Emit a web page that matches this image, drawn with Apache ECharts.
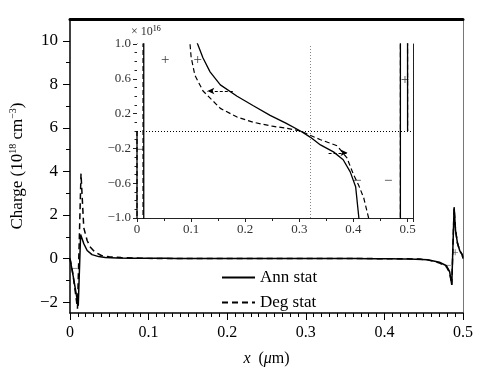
<!DOCTYPE html>
<html>
<head>
<meta charset="utf-8">
<script src="https://cdn.jsdelivr.net/npm/echarts@6/dist/echarts.min.js"></script>
<style>
  html, body { margin: 0; padding: 0; background: #fff; }
  #chart { width: 495px; height: 375px; }
</style>
</head>
<body>
<div id="chart"></div>
<script>
// x in um; edge values in 1e18 cm^-3, middle (zoomed) values in 1e16 cm^-3
const annLeft = [[0, 0], [0.004, -0.8], [0.008, -1.65], [0.0105, -2.17], [0.0135, 1.1], [0.0176, 0.68], [0.0218, 0.37], [0.028, 0.18], [0.0365, 0.09], [0.045, 0.05], [0.06, 0.03], [0.08, 0.018]];
const annMid = [[0.1, 1.25], [0.112, 1.0], [0.122, 0.84], [0.135, 0.68], [0.154, 0.53], [0.185, 0.40], [0.215, 0.29], [0.246, 0.18], [0.275, 0.09], [0.302, 0.0], [0.32, -0.07], [0.339, -0.16], [0.363, -0.24], [0.381, -0.33], [0.394, -0.47], [0.404, -0.64], [0.41, -1.0], [0.42, -1.6], [0.43, -2.3], [0.44, -3.0]];
const annRight = [[0.455, -0.05], [0.47, -0.17], [0.479, -0.33], [0.483, -0.6], [0.4857, -1.21], [0.4887, 2.36], [0.4905, 1.3], [0.493, 0.7], [0.496, 0.35], [0.499, 0.18], [0.5, 0]];

const degLeft = [[0, 0], [0.003, -0.55], [0.007, -1.6], [0.0095, -2.3], [0.014, 3.9], [0.0175, 1.42], [0.019, 1.43], [0.0218, 0.83], [0.026, 0.52], [0.032, 0.29], [0.04, 0.14], [0.05, 0.08], [0.065, 0.045], [0.08, 0.025], [0.09, 0.016]];
const degMid = [[0.098, 1.0], [0.1, 0.85], [0.107, 0.64], [0.122, 0.46], [0.154, 0.26], [0.185, 0.16], [0.215, 0.10], [0.25, 0.055], [0.278, 0.03], [0.302, 0.0], [0.339, -0.10], [0.37, -0.17], [0.388, -0.31], [0.40, -0.5], [0.41, -0.63], [0.419, -0.77], [0.428, -1.0], [0.435, -1.5], [0.445, -2.5]];
const degRight = [[0.455, -0.06], [0.47, -0.2], [0.479, -0.38], [0.483, -0.65], [0.4857, -1.2], [0.4887, 2.3], [0.4905, 1.3], [0.493, 0.7], [0.496, 0.35], [0.499, 0.18], [0.5, 0]];

// tick values
const mainYMajor = [-2, 0, 2, 4, 6, 8, 10];
const mainYMinor = [-1, 1, 3, 5, 7, 9];
const insetYMajor = [-1, -0.6, -0.2, 0.2, 0.6, 1];
const insetYMinor = [-0.9, -0.8, -0.7, -0.5, -0.4, -0.3, -0.1, 0, 0.1, 0.3, 0.4, 0.5, 0.7, 0.8, 0.9];
const insetYAll = [-1, -0.9, -0.8, -0.7, -0.6, -0.5, -0.4, -0.3, -0.2, -0.1, 0, 0.1, 0.2, 0.3, 0.4, 0.5, 0.6, 0.7, 0.8, 0.9, 1];

// annotations: [x, y, text]
const mainSigns = [[0.006, -0.46, '−'], [0.481, -0.32, '−'], [0.49, 0.23, '+']];
const insetSigns = [[0.052, 0.82, '+'], [0.112, 0.82, '+'], [0.495, 0.59, '+'], [0.464, -0.57, '−'], [0.407, -0.57, '−'], [0.006, -0.22, '−']];
const insetRefX = 0.32;
const insetRefY = 0;
const insetArrows = [[[0.177, 0.46], [0.13, 0.46]], [[0.354, -0.25], [0.389, -0.25]]];

const FONT = "'Liberation Serif', 'Times New Roman', serif";
const minus = v => (v < 0 ? '−' + Math.abs(v) : '' + v);

const annMain = annLeft.concat(annMid.map(p => [p[0], p[1] / 100]), annRight);
const degMain = degLeft.concat(degMid.map(p => [p[0], p[1] / 100]), degRight);
const annInset = annLeft.map(p => [p[0], p[1] * 100]).concat(annMid, annRight.map(p => [p[0], p[1] * 100]));
const degInset = degLeft.map(p => [p[0], p[1] * 100]).concat(degMid, degRight.map(p => [p[0], p[1] * 100]));

const chart = echarts.init(document.getElementById('chart'));

const signSeries = (data, x, y, size) => ({
    type: 'scatter',
    xAxisIndex: x,
    yAxisIndex: y,
    data: data,
    symbol: 'circle',
    symbolSize: 1,
    itemStyle: { color: 'rgba(0,0,0,0)' },
    silent: true,
    z: 5,
    label: {
        show: true,
        position: 'inside',
        formatter: p => p.data[2],
        color: '#000',
        fontFamily: FONT,
        fontSize: size
    }
});

const option = {
    animation: false,
    backgroundColor: '#fff',
    textStyle: { fontFamily: FONT, color: '#000' },
    grid: [
        { left: 66, top: 19, width: 397, height: 294 },
        { left: 137, top: 44, width: 276, height: 174, show: true, backgroundColor: '#fff', borderWidth: 0, z: 3 }
    ],
    legend: {
        data: ['Ann stat', 'Deg stat'],
        orient: 'vertical',
        left: 221,
        top: 269,
        padding: 0,
        itemWidth: 33,
        itemHeight: 14,
        itemGap: 8,
        itemStyle: { color: 'rgba(0,0,0,0)', borderWidth: 0 },
        textStyle: { fontFamily: FONT, fontSize: 17, color: '#000' }
    },
    xAxis: [
        {
            gridIndex: 0, type: 'value', min: 0, max: 0.5, interval: 0.1,
            axisLine: { show: true, onZero: false, lineStyle: { color: '#000', width: 1.5 } },
            axisTick: { length: 7, lineStyle: { color: '#000' } },
            minorTick: { show: true, splitNumber: 10, length: 4, lineStyle: { color: '#000' } },
            splitLine: { show: false },
            axisLabel: { fontFamily: FONT, fontSize: 16, color: '#000', margin: 12 },
            name: '{i|x}  ({i|μ}m)',
            nameLocation: 'middle',
            nameGap: 38,
            nameTextStyle: {
                fontFamily: FONT, fontSize: 16, color: '#000',
                rich: { i: { fontFamily: FONT, fontSize: 16, fontStyle: 'italic' } }
            }
        },
        {
            gridIndex: 0, type: 'value', min: 0, max: 0.5, position: 'top',
            axisLine: { show: true, onZero: false, lineStyle: { color: '#000', width: 3 } },
            axisTick: { show: false }, axisLabel: { show: false }, splitLine: { show: false }
        },
        {
            gridIndex: 1, type: 'value', min: 0, max: 0.51, interval: 0.1,
            axisLine: { show: true, onZero: false, lineStyle: { color: '#222', width: 1 } },
            axisTick: { length: 4, lineStyle: { color: '#222' } },
            minorTick: { show: true, splitNumber: 2, length: 3, lineStyle: { color: '#222' } },
            splitLine: { show: false },
            axisLabel: {
                fontFamily: FONT, fontSize: 13, color: '#333', margin: 5,
                formatter: v => (v > 0.505 ? '' : '' + v)
            }
        },
        {
            gridIndex: 1, type: 'value', min: 0, max: 0.51, interval: 0.05, position: 'top',
            axisLine: { show: true, onZero: false, lineStyle: { color: '#222', width: 1 } },
            axisTick: { inside: true, length: 3, lineStyle: { color: '#222' } },
            axisLabel: { show: false }, splitLine: { show: false }
        }
    ],
    yAxis: [
        {
            gridIndex: 0, type: 'value', min: -2.5, max: 11,
            axisLine: { show: true, onZero: false, lineStyle: { color: '#000', width: 1.5 } },
            axisTick: { show: true, length: 7, customValues: mainYMajor, lineStyle: { color: '#000' } },
            splitLine: { show: false },
            axisLabel: { customValues: mainYMajor, formatter: minus, fontFamily: FONT, fontSize: 17, color: '#000', margin: 12 },
            name: 'Charge (10{s|18} cm{s|−3})',
            nameLocation: 'middle',
            nameGap: 43,
            nameTextStyle: {
                fontFamily: FONT, fontSize: 17, color: '#000',
                rich: { s: { fontFamily: FONT, fontSize: 10, padding: [0, 0, 9, 0] } }
            }
        },
        {
            gridIndex: 0, type: 'value', min: -2.5, max: 11, position: 'left',
            axisLine: { show: false, onZero: false },
            axisTick: { show: true, length: 4, customValues: mainYMinor, lineStyle: { color: '#000' } },
            axisLabel: { show: false, customValues: mainYMinor },
            splitLine: { show: false }
        },
        {
            gridIndex: 0, type: 'value', min: -2.5, max: 11, position: 'right',
            axisLine: { show: true, onZero: false, lineStyle: { color: '#777', width: 1 } },
            axisTick: { show: false }, axisLabel: { show: false }, splitLine: { show: false }
        },
        {
            gridIndex: 1, type: 'value', min: -1, max: 1,
            axisLine: { show: true, onZero: false, lineStyle: { color: '#222', width: 1 } },
            axisTick: { show: true, length: 4, customValues: insetYMajor, lineStyle: { color: '#222' } },
            splitLine: { show: false },
            axisLabel: {
                customValues: insetYMajor, fontFamily: FONT, fontSize: 13, color: '#333', margin: 6,
                formatter: v => (v < 0 ? '−' + Math.abs(v).toFixed(1) : v.toFixed(1))
            },
            name: '× 10{s|16}',
            nameLocation: 'end',
            nameGap: 5,
            nameTextStyle: {
                fontFamily: FONT, fontSize: 12, color: '#333', align: 'left', padding: [0, 0, 0, -6],
                rich: { s: { fontFamily: FONT, fontSize: 8, padding: [0, 0, 6, 0] } }
            }
        },
        {
            gridIndex: 1, type: 'value', min: -1, max: 1, position: 'left',
            axisLine: { show: false, onZero: false },
            axisTick: { show: true, length: 2.5, customValues: insetYMinor, lineStyle: { color: '#222' } },
            axisLabel: { show: false, customValues: insetYMinor },
            splitLine: { show: false }
        },
        {
            gridIndex: 1, type: 'value', min: -1, max: 1, position: 'right',
            axisLine: { show: true, onZero: false, lineStyle: { color: '#222', width: 1 } },
            axisTick: { show: true, inside: true, length: 3, customValues: insetYAll, lineStyle: { color: '#222' } },
            axisLabel: { show: false, customValues: insetYAll },
            splitLine: { show: false }
        }
    ],
    series: [
        {
            name: 'Ann stat', type: 'line', xAxisIndex: 0, yAxisIndex: 0,
            data: annMain, symbol: 'none', z: 2,
            lineStyle: { color: '#000', width: 1.5 }, itemStyle: { color: '#000' }
        },
        {
            name: 'Deg stat', type: 'line', xAxisIndex: 0, yAxisIndex: 0,
            data: degMain, symbol: 'none', z: 2,
            lineStyle: { color: '#000', width: 1.5, type: [6, 4] }, itemStyle: { color: '#000' }
        },
        {
            name: 'Ann stat', type: 'line', xAxisIndex: 2, yAxisIndex: 3,
            data: annInset, symbol: 'none', z: 4,
            lineStyle: { color: '#000', width: 1.3 }, itemStyle: { color: '#000' },
            markLine: {
                silent: true,
                symbol: 'none',
                label: { show: false },
                data: [
                    { xAxis: insetRefX, lineStyle: { color: '#888', type: [1, 2], width: 1 } },
                    { yAxis: insetRefY, lineStyle: { color: '#000', type: [1, 2], width: 1 } }
                ].concat(insetArrows.map(a => [
                    { coord: a[0], symbol: 'none', lineStyle: { color: '#000', type: [3, 2], width: 1 } },
                    { coord: a[1], symbol: 'arrow', symbolSize: [5, 7] }
                ]))
            }
        },
        {
            name: 'Deg stat', type: 'line', xAxisIndex: 2, yAxisIndex: 3,
            data: degInset, symbol: 'none', z: 4,
            lineStyle: { color: '#000', width: 1.2, type: [5, 3] }, itemStyle: { color: '#000' }
        },
        signSeries(mainSigns, 0, 0, 12),
        signSeries(insetSigns, 2, 3, 15)
    ]
};

chart.setOption(option);
</script>
</body>
</html>
